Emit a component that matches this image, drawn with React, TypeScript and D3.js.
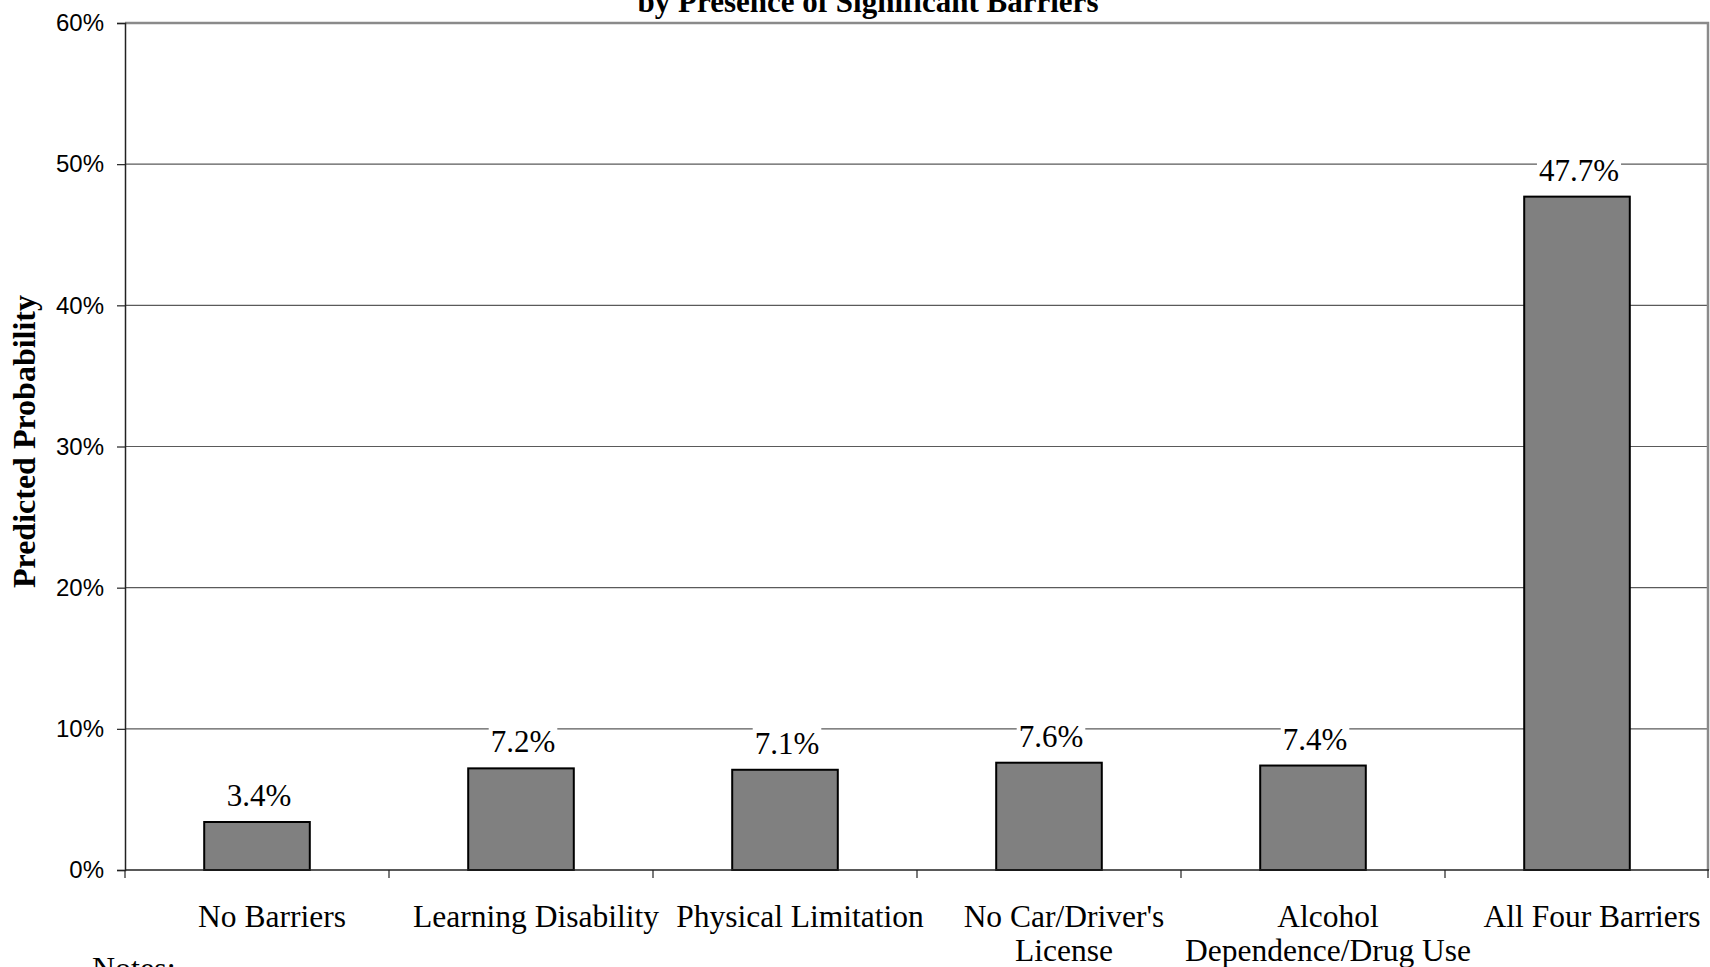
import React, { useEffect, useRef } from 'react';
import * as d3 from 'd3';

const categories = [
  "No Barriers",
  "Learning Disability",
  "Physical Limitation",
  "No Car/Driver's\nLicense",
  "Alcohol\nDependence/Drug Use",
  "All Four Barriers",
];
const values = [3.4, 7.2, 7.1, 7.6, 7.4, 47.7];
const yTicks = [0, 10, 20, 30, 40, 50, 60];
const titleLine = "by Presence of Significant Barriers";
const yTitle = "Predicted Probability";

const SERIF = "'Liberation Serif', 'Times New Roman', serif";
const SANS = "'Liberation Sans', Arial, sans-serif";

export default function App() {
  const svgRef = useRef<SVGSVGElement>(null);

  useEffect(() => {
    if (!svgRef.current) return;
    const width = 1710;
    const height = 967;
    const m = { top: 23, right: 1, bottom: 97, left: 125 };

    const svg = d3.select(svgRef.current);
    svg.selectAll("*").remove();
    svg.attr("width", width).attr("height", height);

    const x = d3.scaleBand<string>()
      .domain(categories)
      .range([m.left, width - m.right])
      .paddingInner(0.6)
      .paddingOuter(0.3);
    const band = d3.scaleBand<string>()
      .domain(categories)
      .range([m.left, width - m.right]);
    const y = d3.scaleLinear().domain([0, 60]).range([height - m.bottom, m.top]);

    // gridlines
    svg.append("g")
      .selectAll("line")
      .data(yTicks.slice(1, -1))
      .enter()
      .append("line")
      .attr("x1", m.left)
      .attr("x2", width - m.right)
      .attr("y1", d => y(d))
      .attr("y2", d => y(d))
      .attr("stroke", "#5a5a5a")
      .attr("stroke-width", 1.2);

    // plot border (top + right)
    svg.append("path")
      .attr("d", `M${m.left},${y(60)}H${width - m.right - 1}V${y(0)}`)
      .attr("fill", "none")
      .attr("stroke", "#8a8a8a")
      .attr("stroke-width", 2.5);

    // bars
    svg.append("g")
      .selectAll("rect")
      .data(values)
      .enter()
      .append("rect")
      .attr("x", (d, i) => x(categories[i])!)
      .attr("width", x.bandwidth())
      .attr("y", d => y(d))
      .attr("height", d => y(0) - y(d))
      .attr("fill", "#808080")
      .attr("stroke", "#000")
      .attr("stroke-width", 2);

    // value labels with white boxes
    const lab = svg.append("g")
      .selectAll("g")
      .data(values)
      .enter()
      .append("g")
      .attr("transform", (d, i) => `translate(${x(categories[i])! + x.bandwidth() / 2 + 2},${y(d) - 16})`);
    lab.append("rect").attr("fill", "#fff");
    lab.append("text")
      .attr("text-anchor", "middle")
      .attr("font-family", SERIF)
      .attr("font-size", 31)
      .attr("fill", "#000")
      .text(d => d.toFixed(1) + "%");
    lab.each(function () {
      const g = d3.select(this);
      const w = (g.select("text").node() as SVGTextElement).getComputedTextLength();
      g.select("rect")
        .attr("x", -w / 2 - 2)
        .attr("width", w + 4)
        .attr("y", -28)
        .attr("height", 36);
    });

    // y axis
    const yAxis = svg.append("g")
      .attr("transform", `translate(${m.left},0)`)
      .call(d3.axisLeft(y).tickValues(yTicks).tickSize(8).tickPadding(13).tickFormat(d => `${d}%`));
    yAxis.select(".domain").attr("stroke", "#222").attr("stroke-width", 1.5);
    yAxis.selectAll(".tick line").attr("stroke", "#222").attr("stroke-width", 1.2);
    yAxis.selectAll(".tick text")
      .attr("font-family", SANS)
      .attr("font-size", 24)
      .attr("fill", "#000");

    // x axis
    const xAxisG = svg.append("g");
    xAxisG.append("line")
      .attr("x1", m.left).attr("x2", width - m.right)
      .attr("y1", y(0)).attr("y2", y(0))
      .attr("stroke", "#222").attr("stroke-width", 1.5);
    xAxisG.selectAll("line.tk")
      .data(categories.map(c => band(c)!).concat([width - m.right - 1]))
      .enter()
      .append("line")
      .attr("class", "tk")
      .attr("x1", d => d).attr("x2", d => d)
      .attr("y1", y(0)).attr("y2", y(0) + 8)
      .attr("stroke", "#222").attr("stroke-width", 1.2);

    const catText = xAxisG.selectAll("text.cat")
      .data(categories)
      .enter()
      .append("text")
      .attr("class", "cat")
      .attr("text-anchor", "middle")
      .attr("font-family", SERIF)
      .attr("font-size", 31.5)
      .attr("fill", "#000")
      .attr("transform", d => `translate(${band(d)! + band.bandwidth() / 2 + 15},${y(0) + 57})`);
    catText.each(function (d) {
      const t = d3.select(this);
      d.split("\n").forEach((line, i) => {
        t.append("tspan").attr("x", 0).attr("y", i * 34).text(line);
      });
    });

    // titles
    svg.append("text")
      .attr("x", 868)
      .attr("y", 12)
      .attr("text-anchor", "middle")
      .attr("font-family", SERIF)
      .attr("font-weight", "bold")
      .attr("font-size", 31)
      .attr("fill", "#000")
      .text(titleLine);

    svg.append("text")
      .attr("transform", `translate(35,${(y(0) + y(60)) / 2 - 5}) rotate(-90)`)
      .attr("text-anchor", "middle")
      .attr("font-family", SERIF)
      .attr("font-weight", "bold")
      .attr("font-size", 32)
      .attr("fill", "#000")
      .text(yTitle);

    svg.append("text")
      .attr("x", 92)
      .attr("y", 979)
      .attr("font-family", SERIF)
      .attr("font-size", 32)
      .attr("fill", "#000")
      .text("Notes:");
  }, []);

  return (
    <svg
      ref={svgRef}
      style={{ position: 'absolute', left: 0, top: 0, background: '#fff' }}
    />
  );
}
